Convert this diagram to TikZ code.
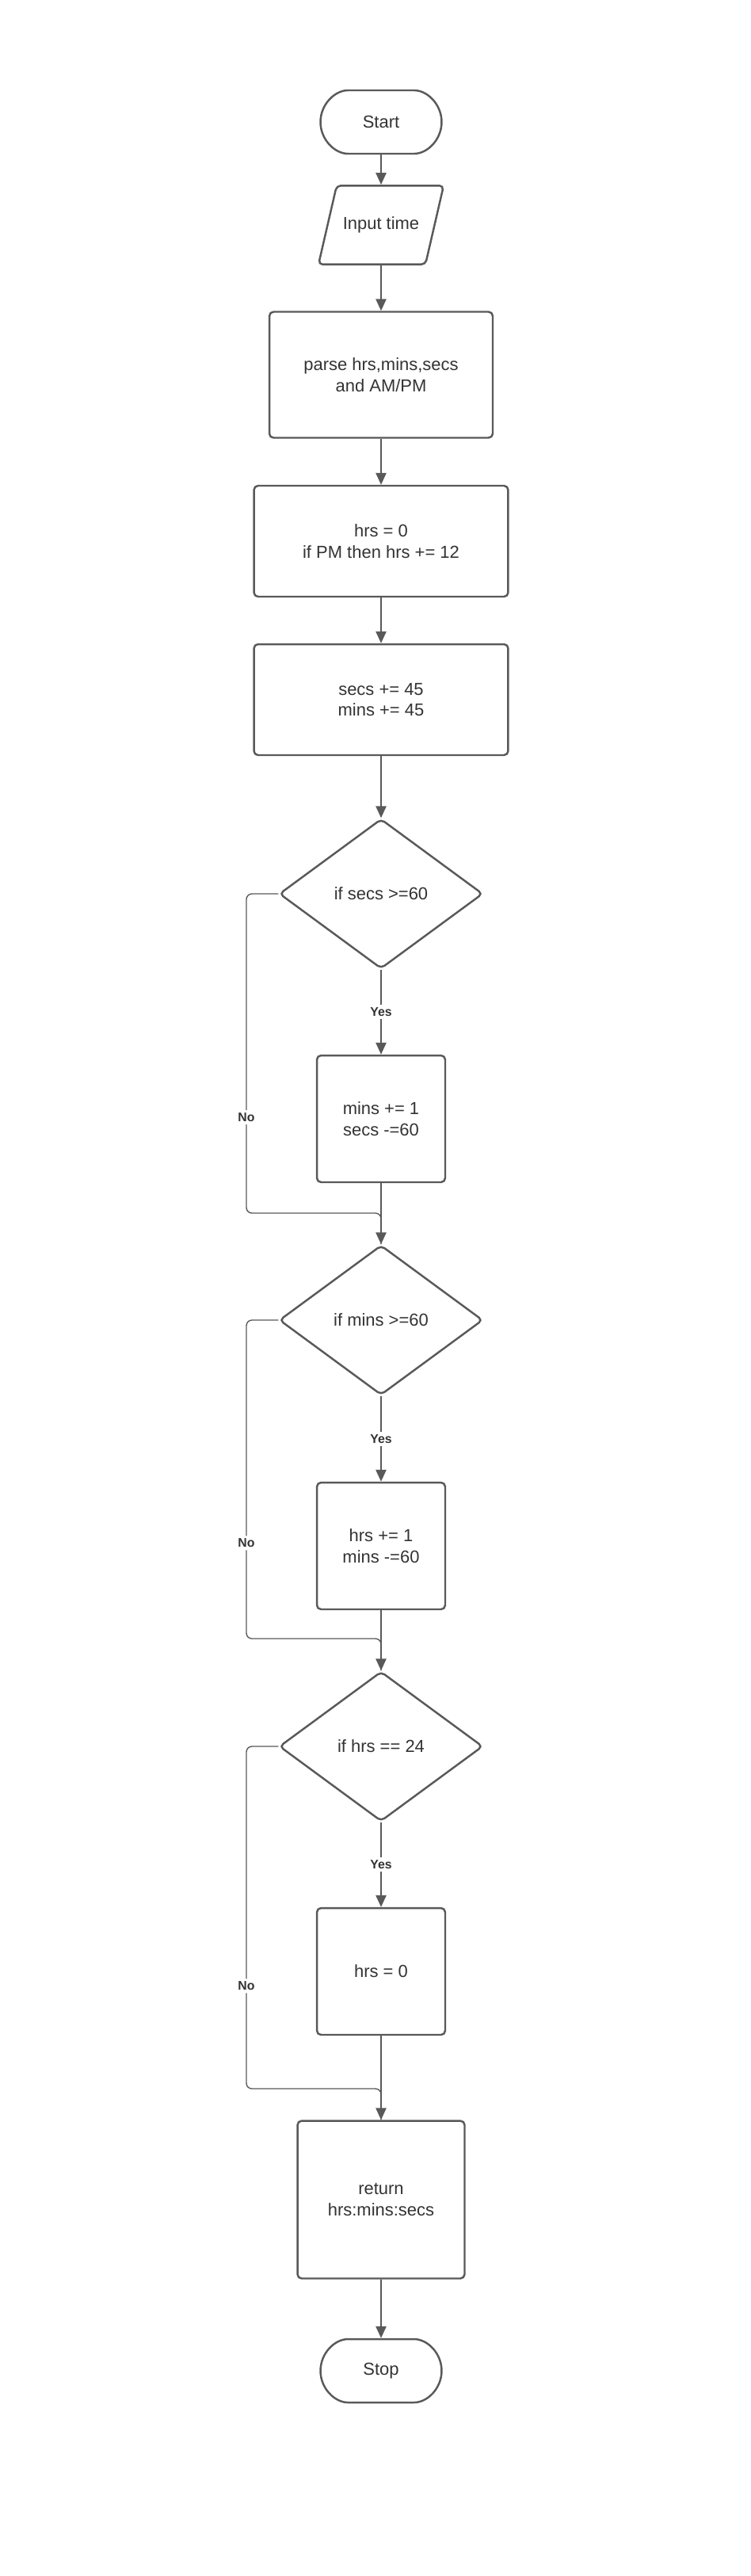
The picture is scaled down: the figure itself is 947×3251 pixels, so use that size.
\documentclass[tikz,border=0pt]{standalone}
\usepackage{fontspec}
\setmainfont{Liberation Sans}
\usepackage{tikz}
\usetikzlibrary{shapes.geometric,shapes.misc,arrows.meta}
\definecolor{linegray}{HTML}{595959}
\definecolor{textgray}{HTML}{333333}
\tikzstyle{arrow} = [-{Triangle[length=8.5pt,width=7.5pt]},line width=1.1pt,draw=linegray]
\tikzstyle{noline} = [line width=0.8pt,draw=linegray,rounded corners=4pt]
\tikzstyle{box} = [draw=linegray,line width=1.4pt,rounded corners=3pt,align=center,text=textgray,font=\fontsize{12.5}{15.3}\selectfont,inner sep=2pt]
\tikzstyle{process} = [box,rectangle]
\tikzstyle{startstop} = [box,rounded rectangle,minimum width=3.2cm,minimum height=1.6cm]
\tikzstyle{io} = [box,trapezium,trapezium left angle=77,trapezium right angle=103,trapezium stretches body,inner ysep=0.79cm,minimum width=3.16cm]
\tikzstyle{decision} = [box,diamond,minimum width=5.14cm,minimum height=3.78cm,inner sep=0pt]
\tikzstyle{yesno} = [font=\fontsize{9}{10}\selectfont\bfseries,text=textgray,fill=white,inner sep=2pt]

\begin{document}
\begin{tikzpicture}[x=0.02cm,y=-0.02cm]
          \useasboundingbox (0,0) rectangle (947,3251);
          \node[startstop] at (481,154) (start) {Start};
          \node[io] at (481,284) (input) {Input time};
          \node[process, minimum width=5.64cm, minimum height=3.18cm] at (481,473) (parse) {parse hrs,mins,secs\\and AM/PM};
          \node[process, minimum width=6.42cm, minimum height=2.8cm] at (481,683) (reset) {hrs = 0\\if PM then hrs += 12};
          \node[process, minimum width=6.42cm, minimum height=2.8cm] at (481,883) (add) {secs += 45\\mins += 45};
          \node[decision] at (481,1128) (ifsecs) {if secs >=60};
          \node[process, minimum width=3.24cm, minimum height=3.2cm] at (481,1412) (carrysecs) {mins += 1\\secs -=60};
          \node[decision] at (481,1666) (ifmins) {if mins >=60};
          \node[process, minimum width=3.24cm, minimum height=3.2cm] at (481,1951) (carrymins) {hrs += 1\\mins -=60};
          \node[decision] at (481,2204) (ifhrs) {if hrs == 24};
          \node[process, minimum width=3.24cm, minimum height=3.2cm] at (481,2488) (wrap) {hrs = 0};
          \node[process, minimum width=4.22cm, minimum height=3.98cm] at (481,2776) (ret) {return\\hrs:mins:secs};
          \node[startstop] at (481,2992) (stop) {Stop};

          \coordinate (nosecs) at (311,1128);
          \coordinate (joinsecs) at (481,1531);
          \coordinate (nomins) at (311,1666);
          \coordinate (joinmins) at (481,2068);
          \coordinate (nohrs) at (311,2204);
          \coordinate (joinhrs) at (481,2636);

          \draw[arrow] (start) -- (input);
          \draw[arrow] (input) -- (parse);
          \draw[arrow] (parse) -- (reset);
          \draw[arrow] (reset) -- (add);
          \draw[arrow] (add) -- (ifsecs);
          \draw[arrow] (ifsecs) -- node[yesno]{Yes} (carrysecs);
          \draw[arrow] (carrysecs) -- (ifmins);
          \draw[arrow] (ifmins) -- node[yesno]{Yes} (carrymins);
          \draw[arrow] (carrymins) -- (ifhrs);
          \draw[arrow] (ifhrs) -- node[yesno]{Yes} (wrap);
          \draw[arrow] (wrap) -- (ret);
          \draw[arrow] (ret) -- (stop);

          \draw[noline] (ifsecs.west) -- (nosecs) -- node[yesno,pos=0.7]{No} (nosecs |- joinsecs) -- (joinsecs) -- (ifmins.north);
          \draw[noline] (ifmins.west) -- (nomins) -- node[yesno,pos=0.7]{No} (nomins |- joinmins) -- (joinmins) -- (ifhrs.north);
          \draw[noline] (ifhrs.west) -- (nohrs) -- node[yesno,pos=0.7]{No} (nohrs |- joinhrs) -- (joinhrs) -- (ret.north);
        \end{tikzpicture}
\end{document}
